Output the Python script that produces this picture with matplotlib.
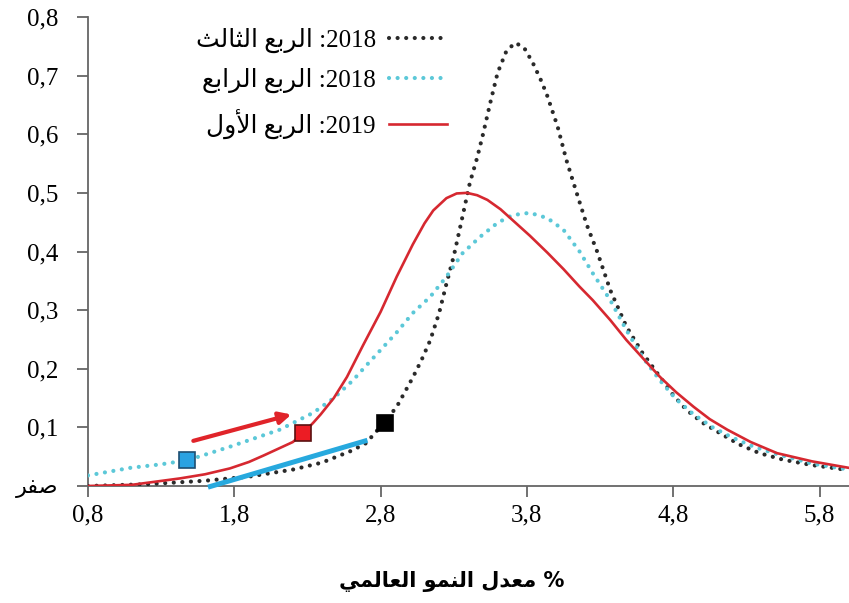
import matplotlib
matplotlib.use("Agg")
import matplotlib.pyplot as plt

# ---------------------------------------------------------------------------
# Minimal Arabic shaping (contextual presentation forms + visual ordering)
# ---------------------------------------------------------------------------
ARABIC_FORMS = {
    'ا': ('\uFE8D', '\uFE8E', None, None),
    'أ': ('\uFE83', '\uFE84', None, None),
    'ب': ('\uFE8F', '\uFE90', '\uFE91', '\uFE92'),
    'ث': ('\uFE99', '\uFE9A', '\uFE9B', '\uFE9C'),
    'د': ('\uFEA9', '\uFEAA', None, None),
    'ر': ('\uFEAD', '\uFEAE', None, None),
    'ص': ('\uFEB9', '\uFEBA', '\uFEBB', '\uFEBC'),
    'ع': ('\uFEC9', '\uFECA', '\uFECB', '\uFECC'),
    'ف': ('\uFED1', '\uFED2', '\uFED3', '\uFED4'),
    'ل': ('\uFEDD', '\uFEDE', '\uFEDF', '\uFEE0'),
    'م': ('\uFEE1', '\uFEE2', '\uFEE3', '\uFEE4'),
    'ن': ('\uFEE5', '\uFEE6', '\uFEE7', '\uFEE8'),
    'و': ('\uFEED', '\uFEEE', None, None),
    'ي': ('\uFEF1', '\uFEF2', '\uFEF3', '\uFEF4'),
}
LAM_ALEF = {'ا': ('\uFEFB', '\uFEFC'), 'أ': ('\uFEF7', '\uFEF8')}


def shape(text):
    tokens = []
    i = 0
    while i < len(text):
        c = text[i]
        if c == 'ل' and i + 1 < len(text) and text[i + 1] in LAM_ALEF:
            tokens.append(('LA', text[i + 1]))
            i += 2
        else:
            tokens.append(('C', c))
            i += 1

    def is_letter(t):
        return t[0] == 'LA' or t[1] in ARABIC_FORMS

    def joins_next(t):
        return t[0] == 'C' and t[1] in ARABIC_FORMS and ARABIC_FORMS[t[1]][2] is not None

    out = []
    for k, t in enumerate(tokens):
        prev = tokens[k - 1] if k > 0 else None
        nxt = tokens[k + 1] if k + 1 < len(tokens) else None
        jp = prev is not None and joins_next(prev) and is_letter(t)
        jn = nxt is not None and joins_next(t) and is_letter(nxt)
        if t[0] == 'LA':
            out.append(LAM_ALEF[t[1]][1 if jp else 0])
        elif t[1] in ARABIC_FORMS:
            iso, fin, ini, med = ARABIC_FORMS[t[1]]
            if jp and jn:
                out.append(med)
            elif jp:
                out.append(fin)
            elif jn:
                out.append(ini)
            else:
                out.append(iso)
        else:
            out.append(t[1])
    return ''.join(reversed(out))


# ---------------------------------------------------------------------------
# Data: probability density of world growth forecasts
# ---------------------------------------------------------------------------
q3_2018_x = [0.8, 1.2, 1.6, 1.9, 2.2, 2.4, 2.6, 2.7, 2.82, 2.91, 3.02, 3.08, 3.14,
             3.20, 3.25, 3.30, 3.34, 3.41, 3.46, 3.50, 3.55, 3.60, 3.66, 3.72, 3.78,
             3.84, 3.90, 3.94, 4.01, 4.07, 4.14, 4.21, 4.28, 4.37, 4.48, 4.59, 4.71,
             4.80, 4.89, 5.0, 5.12, 5.25, 5.39, 5.55, 5.74, 6.0]
q3_2018_y = [0.0, 0.003, 0.009, 0.016, 0.028, 0.040, 0.060, 0.073, 0.107, 0.135, 0.185,
             0.215, 0.249, 0.295, 0.345, 0.392, 0.437, 0.517, 0.560, 0.600, 0.654, 0.705,
             0.742, 0.756, 0.748, 0.722, 0.690, 0.665, 0.613, 0.556, 0.500, 0.445, 0.400,
             0.334, 0.272, 0.227, 0.186, 0.155, 0.130, 0.108, 0.090, 0.071, 0.056, 0.045,
             0.036, 0.027]

q4_2018_x = [0.8, 1.09, 1.3, 1.48, 1.62, 1.77, 2.11, 2.34, 2.48, 2.61, 2.70, 2.80,
             2.91, 3.02, 3.14, 3.25, 3.36, 3.48, 3.60, 3.70, 3.82, 3.94, 4.05, 4.16,
             4.25, 4.37, 4.48, 4.59, 4.71, 4.82, 4.94, 5.07, 5.2, 5.35, 5.5, 5.75, 6.0]
q4_2018_y = [0.018, 0.031, 0.037, 0.044, 0.055, 0.067, 0.096, 0.125, 0.150, 0.180, 0.205,
             0.232, 0.262, 0.295, 0.323, 0.357, 0.397, 0.425, 0.449, 0.462, 0.466, 0.457,
             0.437, 0.400, 0.363, 0.317, 0.266, 0.220, 0.180, 0.148, 0.122, 0.100, 0.083,
             0.067, 0.055, 0.038, 0.028]

q1_2019_x = [0.8, 1.1, 1.43, 1.6, 1.77, 1.9, 2.0, 2.2, 2.27, 2.34, 2.39, 2.48, 2.57,
             2.68, 2.80, 2.91, 3.02, 3.10, 3.16, 3.25, 3.32, 3.39, 3.46, 3.53, 3.62,
             3.70, 3.82, 3.94, 4.05, 4.16, 4.25, 4.37, 4.48, 4.60, 4.71, 4.82, 4.94,
             5.05, 5.17, 5.33, 5.51, 5.75, 6.0]
q1_2019_y = [0.0, 0.002, 0.013, 0.020, 0.030, 0.041, 0.052, 0.075, 0.090, 0.108, 0.122,
             0.150, 0.186, 0.240, 0.297, 0.357, 0.412, 0.448, 0.470, 0.491, 0.499, 0.500,
             0.496, 0.488, 0.472, 0.454, 0.427, 0.398, 0.370, 0.340, 0.317, 0.283, 0.249,
             0.216, 0.186, 0.160, 0.135, 0.114, 0.096, 0.075, 0.056, 0.042, 0.031]

# Highlighted points on each curve
marker_x = {'q3': 2.83, 'q4': 1.48, 'q1': 2.27}
marker_y = {'q3': 0.107, 'q4': 0.044, 'q1': 0.090}

# Arrow annotations (start, end)
red_arrow = ((1.52, 0.077), (2.19, 0.122))
blue_arrow = ((1.62, -0.002), (2.71, 0.078))

x_ticks = [0.8, 1.8, 2.8, 3.8, 4.8, 5.8]
x_tick_labels = ['0,8', '1,8', '2,8', '3,8', '4,8', '5,8']
y_ticks = [0.0, 0.1, 0.2, 0.3, 0.4, 0.5, 0.6, 0.7, 0.8]
y_tick_labels = [shape('صفر'), '0,1', '0,2', '0,3', '0,4', '0,5', '0,6', '0,7', '0,8']

label_q3 = shape('الربع الثالث') + ' :2018'
label_q4 = shape('الربع الرابع') + ' :2018'
label_q1 = shape('الربع الأول') + ' :2019'
x_title = shape('معدل النمو العالمي') + ' %'

BLACK = '#2a2a2a'
CYAN = '#5cc8d8'
RED = '#d62830'
SERIF = ['Liberation Serif', 'DejaVu Sans']

# ---------------------------------------------------------------------------
fig = plt.figure(figsize=(8.49, 6.03), dpi=100)
ax = fig.add_axes([88 / 849, 117 / 603, 761 / 849, 469 / 603])

dot = (0, (0.01, 2.05))
ax.plot(q3_2018_x, q3_2018_y, color=BLACK, lw=3.0, linestyle=dot,
        dash_capstyle='round', solid_joinstyle='round', label=label_q3, zorder=3)
ax.plot(q4_2018_x, q4_2018_y, color=CYAN, lw=3.0, linestyle=dot,
        dash_capstyle='round', label=label_q4, zorder=3)
ax.plot(q1_2019_x, q1_2019_y, color=RED, lw=1.9, solid_joinstyle='round',
        label=label_q1, zorder=4)

# Arrows
ax.annotate('', xy=red_arrow[1], xytext=red_arrow[0],
            arrowprops=dict(arrowstyle='-|>,head_length=0.7,head_width=0.35',
                            color='#e0242a', lw=3.0, shrinkA=0, shrinkB=0),
            zorder=5)
ax.plot([blue_arrow[0][0], blue_arrow[1][0]], [blue_arrow[0][1], blue_arrow[1][1]],
        color='#27a9de', lw=3.6, solid_capstyle='butt', zorder=5, clip_on=False)

# Square markers
ax.plot(marker_x['q4'], marker_y['q4'], 's', ms=11, mfc='#2aa2e2', mec='#1d4e72',
        mew=1.2, zorder=6)
ax.plot(marker_x['q1'], marker_y['q1'], 's', ms=11, mfc='#ec1c24', mec='#5a1010',
        mew=1.2, zorder=6)
ax.plot(marker_x['q3'], marker_y['q3'], 's', ms=11, mfc='#000000', mec='#000000',
        mew=1.2, zorder=6)

ax.set_xlim(0.8, 0.8 + 761 / 146.3)
ax.set_ylim(0, 0.8)
ax.set_xticks(x_ticks)
ax.set_xticklabels(x_tick_labels, family=SERIF, fontsize=18)
ax.set_yticks(y_ticks)
ax.set_yticklabels(y_tick_labels, family=SERIF, fontsize=18)
ax.get_yticklabels()[0].set_fontsize(16)
ax.tick_params(axis='both', direction='out', length=8, width=1.3, color='#666666')
ax.tick_params(axis='y', pad=13)
ax.tick_params(axis='x', pad=5)

for s in ('top', 'right'):
    ax.spines[s].set_visible(False)
for s in ('left', 'bottom'):
    ax.spines[s].set_color('#666666')
    ax.spines[s].set_linewidth(1.3)

ax.legend(loc='upper right', bbox_to_anchor=(447 / 849, 1 - 28 / 603),
          bbox_transform=fig.transFigure, markerfirst=False, frameon=False,
          prop={'family': SERIF, 'size': 18}, handlelength=2.3,
          handletextpad=0.55, labelspacing=0.6, borderaxespad=0.0,
          borderpad=0.0)

fig.text(452 / 849, 1 - 582 / 603, x_title, ha='center', va='center',
         fontsize=15, fontweight='bold', family=['DejaVu Sans'])

fig.savefig('out.png', dpi=100)
